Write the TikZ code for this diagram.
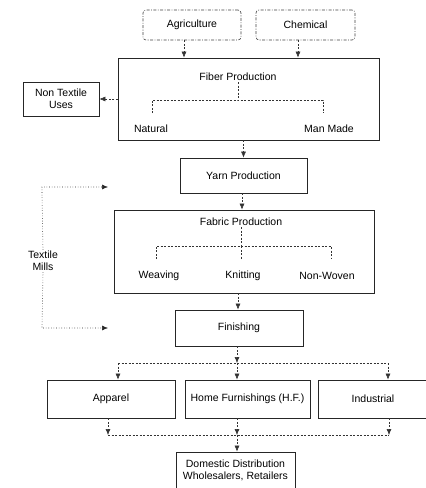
\documentclass[tikz,border=0pt]{standalone}
\usepackage{fontspec}
\setmainfont{Liberation Sans}
\usetikzlibrary{arrows.meta}
\begin{document}
\begin{tikzpicture}[x=1pt,y=-1pt,
  font=\fontsize{10.5}{12}\selectfont,
  box/.style={draw=black!85,line width=0.8pt,inner sep=0pt},
  src/.style={draw=black!75,line width=0.6pt,dash pattern=on 3pt off 1.5pt on 0.8pt off 1.5pt,rounded corners=3pt,inner sep=0pt},
  conn/.style={draw=black!80,line width=0.55pt,dash pattern=on 2pt off 1.5pt},
  arr/.style={conn,-{Latex[length=6pt,width=5pt]}},
  mill/.style={draw=black!85,line width=0.6pt,dotted},
  millarr/.style={mill,-{Latex[length=6pt,width=5pt]}},
  lbl/.style={inner sep=1pt}]
\useasboundingbox (0,0) rectangle (426,488);
% sources
\node[src,minimum width=98pt,minimum height=30pt] (agr) at (192,25) {Agriculture};
\node[src,minimum width=99pt,minimum height=30pt] (chem) at (305.5,25) {Chemical};
% fiber
\node[box,minimum width=261pt,minimum height=82pt] (fib) at (248.5,99) {};
\node[lbl] (fibl) at (238,77) {Fiber Production};
\node[lbl] (nat) at (151,129) {Natural};
\node[lbl] (man) at (329,129) {Man Made};
\coordinate (fj) at (238,100);
\coordinate (fnl) at (152,113);
\coordinate (fnr) at (323,113);
\draw[conn] (fibl.south) -- (fj);
\draw[conn] (fnl) |- (fj) -| (fnr);
% non textile
\node[box,minimum width=76pt,minimum height=34pt,align=center] (non) at (61,99) {Non Textile\\Uses};
\draw[arr] (fib.west |- non) -- (non.east);
\draw[arr] (agr.south -| 184,0) -- (fib.north -| 184,0);
\draw[arr] (chem.south -| 298,0) -- (fib.north -| 298,0);
% yarn
\node[box,minimum width=127pt,minimum height=35pt] (yarn) at (243.5,175.5) {Yarn Production};
\draw[arr] (fib.south -| yarn) -- (yarn.north);
% fabric
\node[box,minimum width=260pt,minimum height=83pt] (fab) at (244,251.5) {};
\node[lbl] (fabl) at (241,222) {Fabric Production};
\node[lbl] (wea) at (159,276) {Weaving};
\node[lbl] (kni) at (243,276) {Knitting};
\node[lbl] (nw) at (327,276) {Non-Woven};
\coordinate (fbj) at (241,246);
\coordinate (wl) at (156,259);
\coordinate (kl) at (241,259);
\coordinate (nl) at (331,259);
\draw[conn] (fabl.south) -- (fbj);
\draw[conn] (wl) |- (fbj) -| (nl);
\draw[conn] (fbj) -- (kl);
\draw[arr] (yarn.south -| 242,0) -- (fab.north -| 242,0);
% finishing
\node[box,minimum width=128pt,minimum height=36pt] (fin) at (239,328) {Finishing};
\draw[arr] (fab.south -| 238,0) -- (fin.north -| 238,0);
% textile mills
\node[lbl,align=center] (tm) at (43,261) {Textile\\Mills};
\coordinate (tmt) at (108,187);
\coordinate (tmb) at (108,328);
\draw[millarr] (tm.north) -- (42,195) |- (tmt);
\draw[millarr] (tm.south) -- (42,327) |- (tmb);
% split
\coordinate (sj) at (237,363);
\draw[arr] (fin.south -| sj) -- (sj);
% lower boxes
\node[box,minimum width=128pt,minimum height=38pt] (app) at (111,399) {Apparel};
\node[box,minimum width=125pt,minimum height=38pt] (hf) at (247.5,399) {Home Furnishings (H.F.)};
\node[box,minimum width=110pt,minimum height=38pt] (ind) at (373,399) {Industrial};
\draw[conn] (118,363) -- (388,363);
\draw[arr] (118,363) -- (app.north -| 118,0);
\draw[arr] (sj) -- (hf.north -| sj);
\draw[arr] (388,363) -- (ind.north -| 388,0);
% merge
\coordinate (mj) at (237,435);
\draw[arr] (app.south -| 108,0) -- (108,435);
\draw[arr] (hf.south -| mj) -- (mj);
\draw[arr] (ind.south -| 389,0) -- (389,435);
\draw[conn] (108,435) -- (389,435);
% domestic
\node[box,minimum width=119pt,minimum height=36pt,align=center] (dom) at (235.5,470) {Domestic Distribution\\Wholesalers, Retailers};
\draw[arr] (mj) -- (dom.north -| mj);
\end{tikzpicture}
\end{document}
